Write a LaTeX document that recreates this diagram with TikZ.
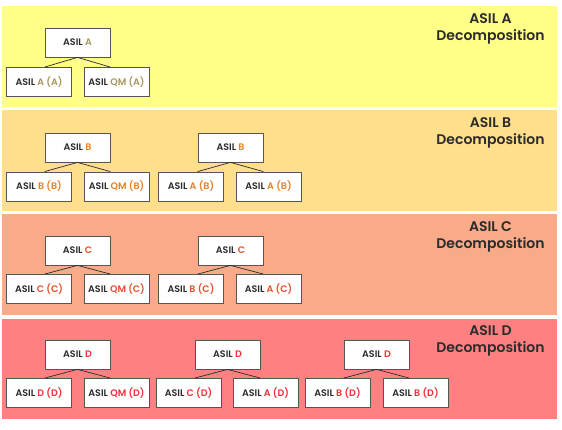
\documentclass[tikz,border=0pt]{standalone}
\usepackage{fontspec}
\setmainfont{Poppins}[BoldFont={Poppins SemiBold}]
\usepackage{tikz}

\definecolor{bandA}{HTML}{FFFF88}
\definecolor{bandB}{HTML}{FFDE8C}
\definecolor{bandC}{HTML}{F9AA88}
\definecolor{bandD}{HTML}{FF8080}
\definecolor{txtA}{HTML}{A8985C}
\definecolor{txtB}{HTML}{E5822A}
\definecolor{txtC}{HTML}{E5532C}
\definecolor{txtD}{HTML}{EE3338}
\definecolor{ink}{HTML}{2B2B2B}

\newcommand{\asil}[2]{ASIL \textcolor{#1}{#2}}

\begin{document}
\begin{tikzpicture}[x=1pt,y=-1pt,
    asilbox/.style={draw=ink!80,fill=white,line width=0.8pt,minimum width=65pt,minimum height=29pt,
      inner sep=1pt,font=\fontsize{9.5}{11}\selectfont\bfseries,text=ink},
    title/.style={align=center,font=\fontsize{14}{17}\selectfont\bfseries,text=ink},
    link/.style={draw=ink,line width=0.7pt}]
  \useasboundingbox (0,0) rectangle (562,430);
  \fill[white] (0,0) rectangle (562,430);
  \fill[bandA] (2,6) rectangle (557,107);
  \fill[bandB] (2,110) rectangle (557,211);
  \fill[bandC] (2,214) rectangle (557,315);
  \fill[bandD] (2,319) rectangle (557,419);

  % ASIL A
  \node[title] (tA) at (490.5,28.5) {ASIL A\\Decomposition};
  \node[asilbox] (pA) at (77.5,42.5) {\asil{txtA}{A}};
  \node[asilbox] (cA1) at (39,82) {\asil{txtA}{A (A)}};
  \node[asilbox] (cA2) at (116.5,82) {\asil{txtA}{QM (A)}};
  \draw[link] (pA.south) -- (cA1.north -| pA.west);
  \draw[link] (pA.south) -- (cA2.north -| pA.east);

  % ASIL B
  \node[title] (tB) at (490.5,132.5) {ASIL B\\Decomposition};
  \node[asilbox] (pB1) at (77.5,147.5) {\asil{txtB}{B}};
  \node[asilbox] (cB1) at (39,186.5) {\asil{txtB}{B (B)}};
  \node[asilbox] (cB2) at (116.5,186.5) {\asil{txtB}{QM (B)}};
  \node[asilbox] (pB2) at (230.5,147.5) {\asil{txtB}{B}};
  \node[asilbox] (cB3) at (191,186.5) {\asil{txtB}{A (B)}};
  \node[asilbox] (cB4) at (268.5,186.5) {\asil{txtB}{A (B)}};
  \draw[link] (pB1.south) -- (cB1.north -| pB1.west);
  \draw[link] (pB1.south) -- (cB2.north -| pB1.east);
  \draw[link] (pB2.south) -- (cB3.north -| pB2.west);
  \draw[link] (pB2.south) -- (cB4.north -| pB2.east);

  % ASIL C
  \node[title] (tC) at (490.5,236.5) {ASIL C\\Decomposition};
  \node[asilbox] (pC1) at (77.5,250.5) {\asil{txtC}{C}};
  \node[asilbox] (cC1) at (39,289) {\asil{txtC}{C (C)}};
  \node[asilbox] (cC2) at (116.5,289) {\asil{txtC}{QM (C)}};
  \node[asilbox] (pC2) at (230.5,250.5) {\asil{txtC}{C}};
  \node[asilbox] (cC3) at (191,289) {\asil{txtC}{B (C)}};
  \node[asilbox] (cC4) at (268.5,289) {\asil{txtC}{A (C)}};
  \draw[link] (pC1.south) -- (cC1.north -| pC1.west);
  \draw[link] (pC1.south) -- (cC2.north -| pC1.east);
  \draw[link] (pC2.south) -- (cC3.north -| pC2.west);
  \draw[link] (pC2.south) -- (cC4.north -| pC2.east);

  % ASIL D
  \node[title] (tD) at (490.5,340.5) {ASIL D\\Decomposition};
  \node[asilbox] (pD1) at (77.5,354.5) {\asil{txtD}{D}};
  \node[asilbox] (cD1) at (39,393) {\asil{txtD}{D (D)}};
  \node[asilbox] (cD2) at (116.5,393) {\asil{txtD}{QM (D)}};
  \node[asilbox] (pD2) at (227.5,354.5) {\asil{txtD}{D}};
  \node[asilbox] (cD3) at (188.5,393) {\asil{txtD}{C (D)}};
  \node[asilbox] (cD4) at (265.5,393) {\asil{txtD}{A (D)}};
  \node[asilbox] (pD3) at (376.5,354.5) {\asil{txtD}{D}};
  \node[asilbox] (cD5) at (337.5,393) {\asil{txtD}{B (D)}};
  \node[asilbox] (cD6) at (415.5,393) {\asil{txtD}{B (D)}};
  \draw[link] (pD1.south) -- (cD1.north -| pD1.west);
  \draw[link] (pD1.south) -- (cD2.north -| pD1.east);
  \draw[link] (pD2.south) -- (cD3.north -| pD2.west);
  \draw[link] (pD2.south) -- (cD4.north -| pD2.east);
  \draw[link] (pD3.south) -- (cD5.north -| pD3.west);
  \draw[link] (pD3.south) -- (cD6.north -| pD3.east);
\end{tikzpicture}
\end{document}
